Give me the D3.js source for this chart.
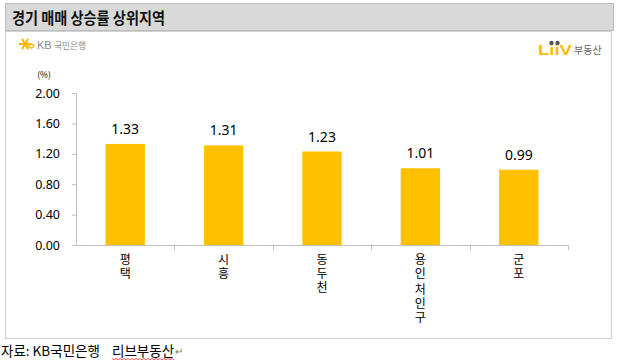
<!DOCTYPE html>
<html><head><meta charset="utf-8">
<script src="https://cdn.jsdelivr.net/npm/d3@7"></script>
<style>body{margin:0;background:#fff;}svg{display:block;font-family:"Malgun Gothic","Noto Sans CJK KR",sans-serif;}
.cat{writing-mode:vertical-rl;text-orientation:upright;}</style>
</head><body><svg id="c" width="624" height="361"></svg>
<script>
const title = "경기 매매 상승률 상위지역";
const categories = ["평택", "시흥", "동두천", "용인 처인구", "군포"];
const values = [1.33, 1.31, 1.23, 1.01, 0.99];
const yTicks = [0, 0.4, 0.8, 1.2, 1.6, 2.0];
const unitLabel = "(%)";
const sourceText = "자료: KB국민은행";
const sourceText2 = "리브부동산";

const svg = d3.select("#c");
// title box
svg.append("rect").attr("x",5.5).attr("y",3.5).attr("width",608).attr("height",27)
  .attr("fill","#d9d9d9").attr("stroke","#8c8c8c").attr("stroke-dasharray","1,1");
svg.append("text").attr("x",12).attr("y",23.5).attr("font-size",15.5).attr("font-weight","bold")
  .attr("fill","#111").attr("textLength",153).attr("lengthAdjust","spacingAndGlyphs").text(title);
// chart box
svg.append("rect").attr("x",5.5).attr("y",31.5).attr("width",606).attr("height",307)
  .attr("fill","#fff").attr("stroke","#d0d0d0");

// KB logo
const kb = svg.append("g").attr("transform","translate(18,44)");
[0,60,120].forEach(a=>kb.append("line").attr("x1",-6).attr("x2",6).attr("y1",0).attr("y2",0)
  .attr("transform",`translate(7,0) rotate(${a})`).attr("stroke","#f5b800").attr("stroke-width",2));
kb.append("path").attr("d","M10,2 q4,-4 6,0 q-2,4 -6,0").attr("fill","none").attr("stroke","#f5b800").attr("stroke-width",1.5);
kb.append("text").attr("x",19).attr("y",4.5).attr("font-size",11).attr("fill","#8a8a8a")
  .attr("font-family","Arial, 'Liberation Sans', sans-serif").text("KB");
kb.append("text").attr("x",36).attr("y",4.5).attr("font-size",9).attr("fill","#8a8a8a")
  .attr("textLength",32).attr("lengthAdjust","spacingAndGlyphs").text("국민은행");

// Liiv logo
const lv = svg.append("g").attr("transform","translate(538,45)");
lv.append("text").attr("x",0).attr("y",10).attr("font-size",15).attr("font-weight","bold").attr("fill","#ffbc00")
  .attr("font-family","Arial, 'Liberation Sans', sans-serif").attr("textLength",34).attr("lengthAdjust","spacingAndGlyphs").text("LiiV");
lv.append("circle").attr("cx",13.5).attr("cy",-2).attr("r",2.2).attr("fill","#555");
lv.append("circle").attr("cx",19.5).attr("cy",-2).attr("r",2.2).attr("fill","#555");
lv.append("text").attr("x",36).attr("y",9).attr("font-size",10).attr("fill","#666").text("부동산");

const x = d3.scaleBand().domain(categories).range([76,568]).paddingInner(0.6).paddingOuter(0.3);
const y = d3.scaleLinear().domain([0,2]).range([245,93]);

// y axis
const ya = svg.append("g").attr("transform","translate(76,0)")
  .call(d3.axisLeft(y).tickValues(yTicks).tickFormat(d3.format(".2f")).tickSize(4).tickPadding(12));
ya.select(".domain").attr("stroke","#bfbfbf").attr("d","M-4,93.5H0.5V245");
ya.selectAll(".tick line").attr("stroke","#bfbfbf");
ya.selectAll(".tick text").attr("fill","#000")
  .attr("font-family","'Noto Sans', 'DejaVu Sans', sans-serif").style("font-size","12.5px");
svg.append("text").attr("x",44).attr("y",78).attr("text-anchor","middle").attr("font-size",8.5)
  .attr("fill","#000").text(unitLabel);

// bars
svg.selectAll(".bar").data(values).enter().append("rect")
  .attr("x",(d,i)=>x(categories[i])).attr("width",x.bandwidth())
  .attr("y",d=>y(d)).attr("height",d=>y(0)-y(d)).attr("fill","#ffc000");

// x axis baseline and ticks
const step = x.step();
svg.append("line").attr("x1",76).attr("x2",568).attr("y1",245.5).attr("y2",245.5).attr("stroke","#bfbfbf");
d3.range(categories.length).forEach(i=>{
  const bx = 76 + step*(i+1);
  svg.append("line").attr("x1",Math.round(bx)+0.5).attr("x2",Math.round(bx)+0.5).attr("y1",245).attr("y2",250).attr("stroke","#bfbfbf");
});

// value labels
svg.selectAll(".vl").data(values).enter().append("text")
  .attr("x",(d,i)=>x(categories[i])+x.bandwidth()/2).attr("y",d=>y(d)-10)
  .attr("text-anchor","middle").attr("fill","#000")
  .attr("font-family","'Noto Sans', 'DejaVu Sans', sans-serif").style("font-size","14px").text(d=>d.toFixed(2));

// category labels (vertical)
svg.selectAll(".cat").data(categories).enter().append("text").attr("class","cat")
  .attr("x",d=>x(d)+x.bandwidth()/2).attr("y",253)
  .attr("font-size",12).attr("letter-spacing","2px").attr("fill","#000")
  .text(d=>d.replace(/ /g,"\u200A"));

// source
svg.append("text").attr("x",1).attr("y",356).attr("font-size",13.5).attr("fill","#000").text(sourceText);
const s2 = svg.append("text").attr("x",112).attr("y",356).attr("font-size",13.5).attr("fill","#000").text(sourceText2);
const bb = s2.node().getBBox();
svg.append("text").attr("x",bb.x+bb.width+1).attr("y",355).attr("font-size",10).attr("fill","#777").text("↵");
const wv = [];
for(let xx=bb.x; xx<=bb.x+bb.width; xx+=2) wv.push([xx, 358.5 + ((Math.round((xx-bb.x)/2))%2?1.2:0)]);
svg.append("path").attr("d",d3.line()(wv)).attr("fill","none").attr("stroke","#e03030").attr("stroke-width",0.8);
</script></body></html>
